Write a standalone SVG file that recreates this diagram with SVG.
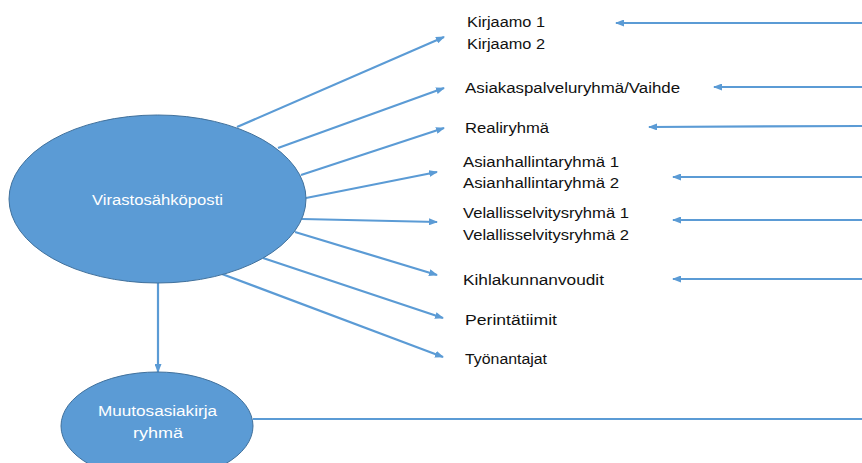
<svg xmlns="http://www.w3.org/2000/svg" width="862" height="463" viewBox="0 0 862 463">
<defs>
<marker id="ah" markerWidth="9" markerHeight="7" refX="8" refY="3.5" orient="auto" markerUnits="userSpaceOnUse">
<path d="M0,0 L9,3.5 L0,7 Z" fill="#5B9BD5"/>
</marker>
<style>
.n{fill:#5B9BD5;stroke:#41719C;stroke-width:1}
.c{stroke:#5B9BD5;stroke-width:2.2;fill:none}
.a{marker-end:url(#ah)}
.t{font-family:"Liberation Sans",Arial,sans-serif;font-size:15.5px;fill:#111}
.w{font-family:"Liberation Sans",Arial,sans-serif;font-size:15.5px;fill:#fff;text-anchor:middle}
</style>
</defs>
<rect width="862" height="463" fill="#fff"/>
<g id="connectors">
<line class="c a" x1="237" y1="127" x2="444" y2="37"/>
<line class="c a" x1="278" y1="148" x2="444" y2="88"/>
<line class="c a" x1="301" y1="175" x2="444" y2="128"/>
<line class="c a" x1="306" y1="198" x2="437" y2="172"/>
<line class="c a" x1="302" y1="219" x2="437" y2="222"/>
<line class="c a" x1="295" y1="232" x2="437" y2="275"/>
<line class="c a" x1="263" y1="258" x2="443" y2="318"/>
<line class="c a" x1="222" y1="274" x2="443" y2="357"/>
<line class="c a" x1="158" y1="283" x2="158" y2="372"/>
<line class="c a" x1="862" y1="23" x2="616" y2="23"/>
<line class="c a" x1="862" y1="87" x2="714" y2="87"/>
<line class="c a" x1="862" y1="126" x2="649" y2="127"/>
<line class="c a" x1="862" y1="177" x2="673" y2="177"/>
<line class="c a" x1="862" y1="220" x2="673" y2="220"/>
<line class="c a" x1="862" y1="279" x2="673" y2="279"/>
<line class="c" x1="253" y1="419" x2="862" y2="419" stroke-width="2.6"/>
</g>
<g id="virastosahkoposti">
<ellipse class="n" cx="157.5" cy="199" rx="148.5" ry="84"/>
<text class="w" x="157.5" y="204.5" textLength="131" lengthAdjust="spacingAndGlyphs">Virastosähköposti</text>
</g>
<g id="muutosasiakirja">
<ellipse class="n" cx="157" cy="426" rx="96" ry="54"/>
<text class="w" x="157.5" y="415.5" textLength="119" lengthAdjust="spacingAndGlyphs">Muutosasiakirja</text>
<text class="w" x="158" y="437.5" textLength="50" lengthAdjust="spacingAndGlyphs">ryhmä</text>
</g>
<g id="kirjaamo">
<text class="t" x="467" y="26.5" textLength="78" lengthAdjust="spacingAndGlyphs">Kirjaamo 1</text>
<text class="t" x="467" y="48.5" textLength="78" lengthAdjust="spacingAndGlyphs">Kirjaamo 2</text>
</g>
<g id="asiakaspalvelu">
<text class="t" x="465" y="92.5" textLength="215" lengthAdjust="spacingAndGlyphs">Asiakaspalveluryhmä/Vaihde</text>
</g>
<g id="realiryhma">
<text class="t" x="465" y="132.5" textLength="84" lengthAdjust="spacingAndGlyphs">Realiryhmä</text>
</g>
<g id="asianhallinta">
<text class="t" x="463" y="166.5" textLength="156" lengthAdjust="spacingAndGlyphs">Asianhallintaryhmä 1</text>
<text class="t" x="463" y="187.5" textLength="156" lengthAdjust="spacingAndGlyphs">Asianhallintaryhmä 2</text>
</g>
<g id="velallisselvitys">
<text class="t" x="463" y="217.5" textLength="166" lengthAdjust="spacingAndGlyphs">Velallisselvitysryhmä 1</text>
<text class="t" x="463" y="239.5" textLength="166" lengthAdjust="spacingAndGlyphs">Velallisselvitysryhmä 2</text>
</g>
<g id="kihlakunnanvoudit">
<text class="t" x="463" y="284.5" textLength="141" lengthAdjust="spacingAndGlyphs">Kihlakunnanvoudit</text>
</g>
<g id="perintatiimit">
<text class="t" x="465" y="324.5" textLength="92" lengthAdjust="spacingAndGlyphs">Perintätiimit</text>
</g>
<g id="tyonantajat">
<text class="t" x="465" y="363.5" textLength="82" lengthAdjust="spacingAndGlyphs">Työnantajat</text>
</g>
</svg>
